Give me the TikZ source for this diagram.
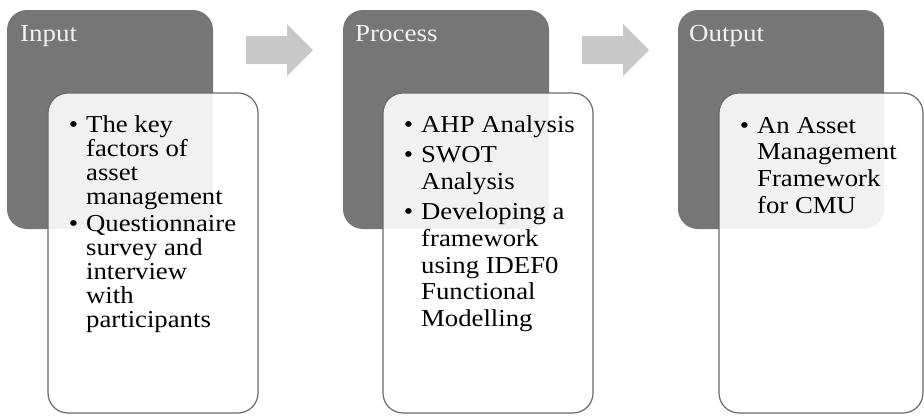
\documentclass[tikz,border=0pt]{standalone}
\usepackage{fontspec}
\setmainfont[FakeStretch=1.1]{Liberation Serif}
\usetikzlibrary{calc}
\definecolor{boxgray}{RGB}{118,118,118}
\definecolor{bordergray}{RGB}{105,105,105}
\definecolor{arrowgray}{RGB}{200,200,200}
\definecolor{titlecol}{RGB}{242,242,242}
\newcommand{\bitem}{\leavevmode\llap{\textbullet\hspace{8bp}}}
\begin{document}
\begin{tikzpicture}[x=1bp,y=-1bp,
  darkbox/.style={fill=boxgray, draw=none, rounded corners=20bp, minimum width=206bp, minimum height=219bp, anchor=north west, inner sep=0pt, outer sep=0pt},
  whitebox/.style={fill=white, fill opacity=0.9, draw=bordergray, line width=1.2bp, rounded corners=20bp, minimum height=320bp, anchor=north west, inner sep=0pt, outer sep=0pt},
  titletext/.style={anchor=base west, inner sep=0pt, text=titlecol, font=\fontsize{24.5bp}{24.5bp}\selectfont},
  bodytext/.style={anchor=base west, inner sep=0pt, text=black},
  blockarrow/.style={fill=arrowgray, draw=none}]
\useasboundingbox (0,0) rectangle (924,415);
% dark header boxes
\node[darkbox] (d1) at (7,10) {};
\node[darkbox] (d2) at (343,10) {};
\node[darkbox] (d3) at (678,10) {};
% titles
\node[titletext] (t1) at (20,41) {Input};
\node[titletext] (t2) at (355,41.5) {Process};
\node[titletext] (t3) at (689,41.5) {Output};
% block arrows
\coordinate (a1) at (246,50);
\coordinate (a2) at (582,50);
\foreach \a in {a1,a2}{
  \fill[blockarrow] ($(\a)+(0,-14)$) -- ++(41,0) -- ++(0,-12) -- ($(\a)+(67,0)$) -- ($(\a)+(41,26)$) -- ++(0,-12) -- ($(\a)+(0,14)$) -- cycle;
}
% white content boxes
\node[whitebox, minimum width=210bp] (w1) at (48,93) {};
\node[whitebox, minimum width=210bp] (w2) at (383,93) {};
\node[whitebox, minimum width=204bp] (w3) at (719,93) {};
% body texts
\node[bodytext] (b1) at (86,132) {\parbox[t]{200bp}{\fontsize{24.3bp}{24bp}\selectfont
\bitem The key\\ factors of\\ asset\\ management\\[3bp]
\bitem Questionnaire\\ survey and\\ interview\\ with\\ participants}};
\node[bodytext] (b2) at (421,132) {\parbox[t]{200bp}{\fontsize{24.3bp}{26.6bp}\selectfont
\bitem AHP Analysis\\[4bp]
\bitem SWOT\\ Analysis\\[4bp]
\bitem Developing a\\ framework\\ using IDEF0\\ Functional\\ Modelling}};
\node[bodytext] (b3) at (757,133) {\parbox[t]{200bp}{\fontsize{24.3bp}{26.7bp}\selectfont
\bitem An Asset\\ Management\\ Framework\\ for CMU}};
\end{tikzpicture}
\end{document}
